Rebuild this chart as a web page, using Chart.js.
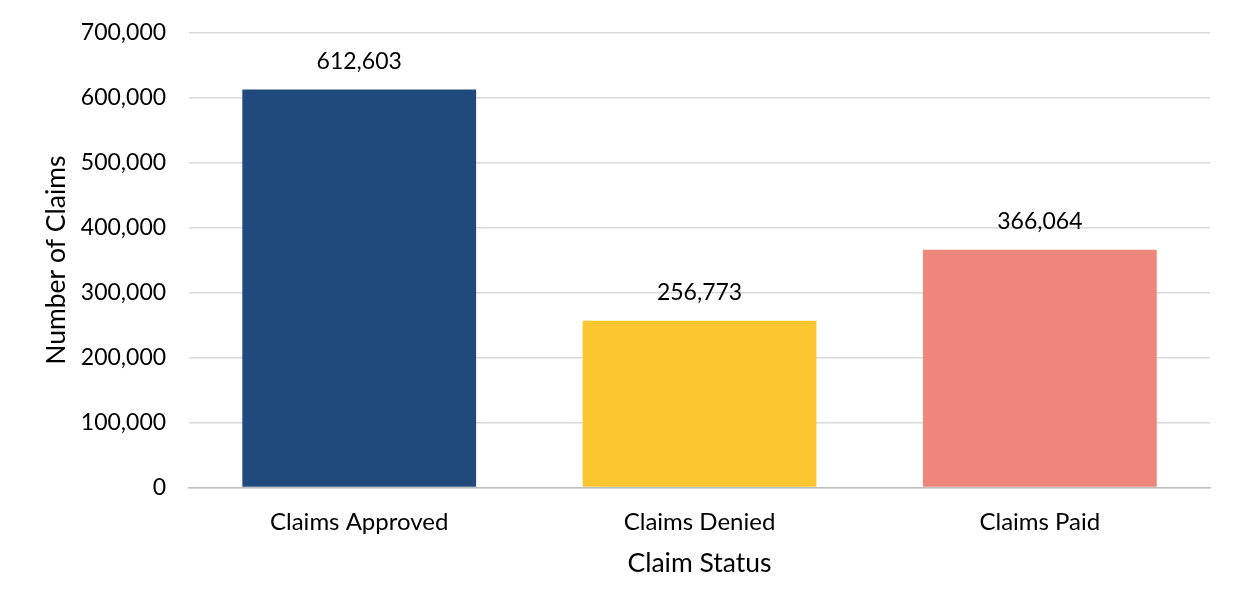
<!DOCTYPE html>
<html lang="en">
<head>
    <meta charset="UTF-8">
    <title>Claims by Status</title>
    <script src="https://cdn.jsdelivr.net/npm/chart.js"></script>
    <style>
        html, body { margin: 0; padding: 0; background: #fff; overflow: hidden; }
        #claimsChart { display: block; margin-top: -4px; }
    </style>
</head>
<body>
    <canvas id="claimsChart" width="1240" height="620"></canvas>
    <script>
        const categories = ['Claims Approved', 'Claims Denied', 'Claims Paid'];
        const claimCounts = [612603, 256773, 366064];
        const barColors = ['#204A7C', '#FCC630', '#EE867B'];

        const fontFamily = "Lato, 'Open Sans', 'Liberation Sans', sans-serif";

        // draws the value above each bar
        const valueLabels = {
            id: 'valueLabels',
            afterDatasetsDraw(chart) {
                const ctx = chart.ctx;
                const meta = chart.getDatasetMeta(0);
                ctx.save();
                ctx.font = '23px ' + fontFamily;
                ctx.fillStyle = '#000';
                ctx.textAlign = 'center';
                ctx.textBaseline = 'middle';
                meta.data.forEach((bar, i) => {
                    ctx.fillText(claimCounts[i].toLocaleString('en-US'), bar.x, bar.y - 28);
                });
                ctx.restore();
            }
        };

        new Chart(document.getElementById('claimsChart'), {
            type: 'bar',
            data: {
                labels: categories,
                datasets: [{
                    data: claimCounts,
                    backgroundColor: barColors,
                    borderWidth: 0,
                    barPercentage: 1,
                    categoryPercentage: 0.687
                }]
            },
            options: {
                responsive: false,
                animation: false,
                layout: { padding: { top: 10, right: 30, bottom: 37, left: 41 } },
                plugins: {
                    legend: { display: false },
                    tooltip: { enabled: false }
                },
                scales: {
                    x: {
                        grid: { display: false, drawTicks: false },
                        border: { display: true, color: '#BFBFBF', width: 1.5 },
                        ticks: { color: '#000', font: { family: fontFamily, size: 24 }, padding: 20 },
                        title: {
                            display: true,
                            text: 'Claim Status',
                            color: '#000',
                            font: { family: fontFamily, size: 26.5 },
                            padding: { top: -9, bottom: 0 }
                        }
                    },
                    y: {
                        min: 0,
                        max: 700000,
                        ticks: {
                            stepSize: 100000,
                            color: '#000',
                            font: { family: fontFamily, size: 23 },
                            padding: 23,
                            callback: v => v.toLocaleString('en-US')
                        },
                        grid: { color: '#D9D9D9', lineWidth: 1.5, drawTicks: false },
                        border: { display: false },
                        title: {
                            display: true,
                            text: 'Number of Claims',
                            color: '#000',
                            font: { family: fontFamily, size: 26.5 },
                            padding: { top: 0, bottom: -15 }
                        }
                    }
                }
            },
            plugins: [valueLabels]
        });
    </script>
</body>
</html>
